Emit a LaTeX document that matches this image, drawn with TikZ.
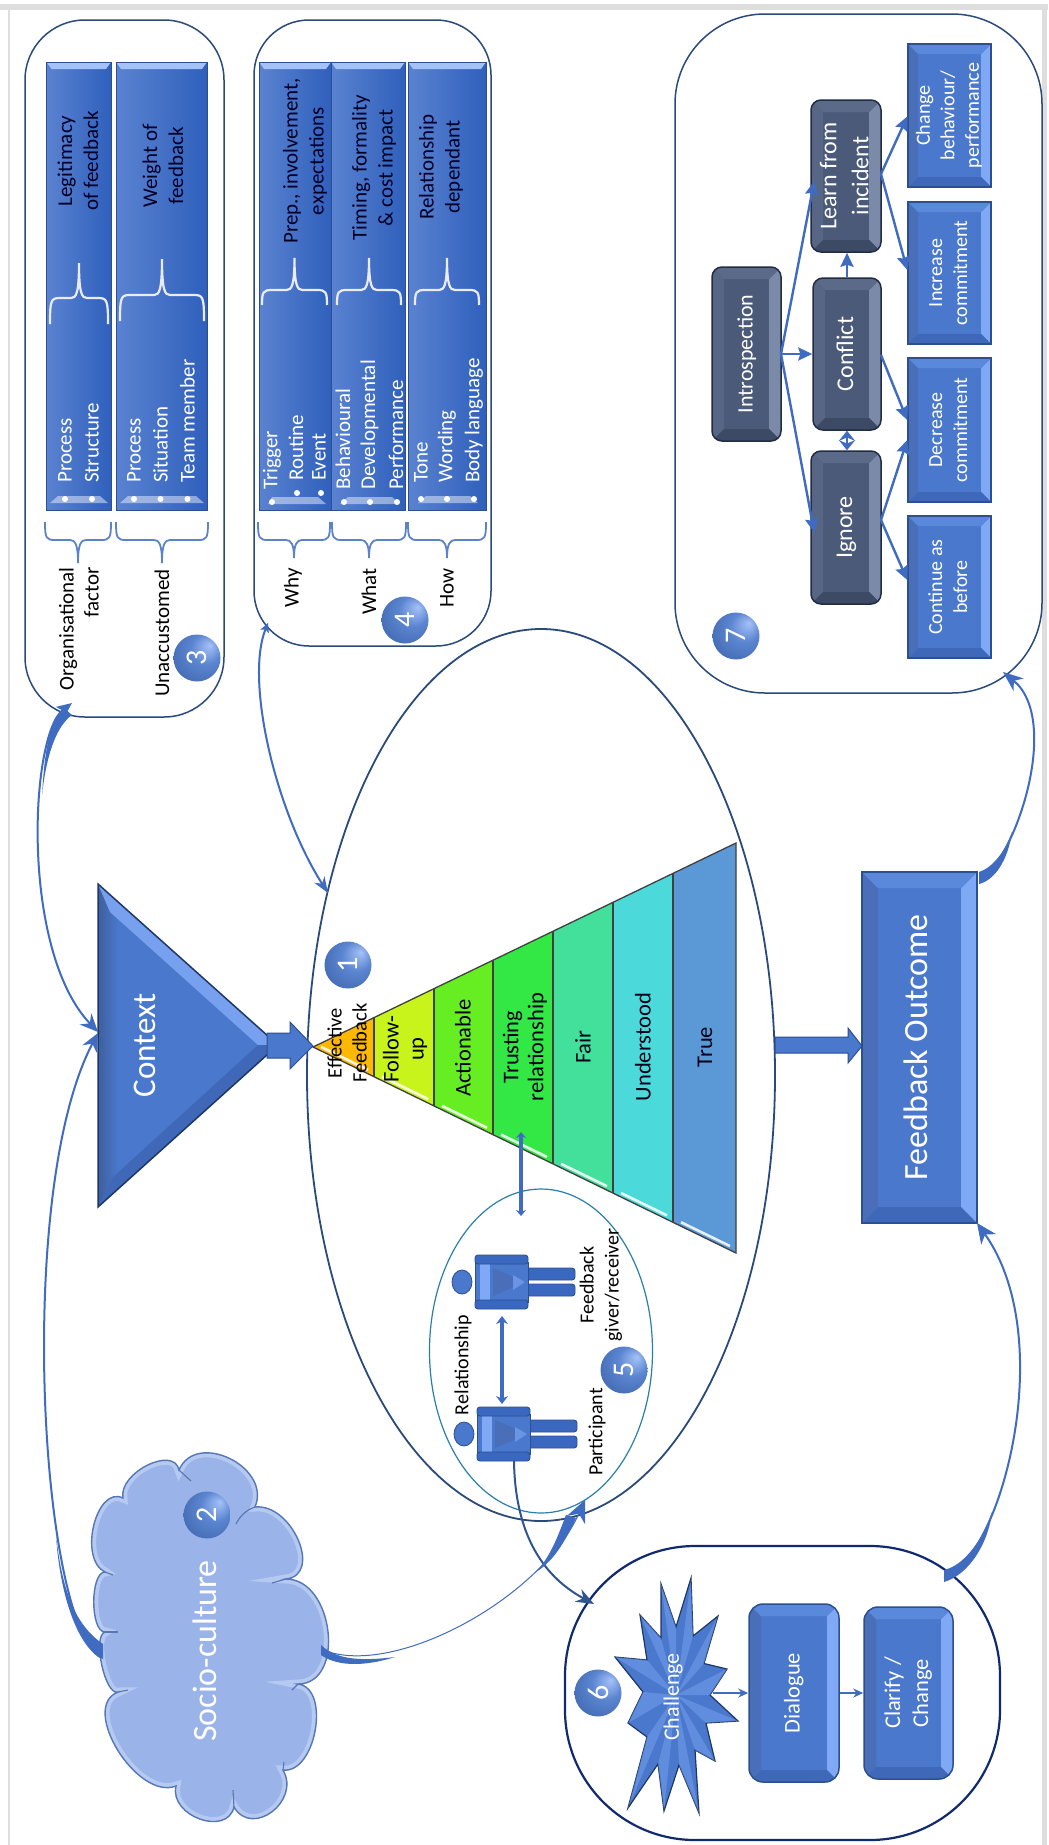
\documentclass[tikz,border=0pt]{standalone}
\usepackage{fontspec}
\setmainfont{Carlito}
\usetikzlibrary{arrows.meta,calc,shapes.geometric}
\definecolor{conn}{HTML}{3F6CC0}
\definecolor{limb}{HTML}{3A68C0}
\definecolor{framegray}{HTML}{DEDEDE}
\definecolor{edgeA}{HTML}{2A4A7A}
\definecolor{edgeB}{HTML}{0F2A6E}
\definecolor{tealedge}{HTML}{2A7FA8}
\definecolor{barleft}{HTML}{5A82D0}
\definecolor{barright}{HTML}{2F60BC}
\definecolor{blueAmain}{HTML}{4A78CC}
\definecolor{blueAleft}{HTML}{4A6FB8}
\definecolor{blueAright}{HTML}{7FA8F5}
\definecolor{blueAtop}{HTML}{5A88DA}
\definecolor{blueAbot}{HTML}{3F69B8}
\definecolor{blueAedge}{HTML}{2C4F90}
\definecolor{darkBmain}{HTML}{4A5A78}
\definecolor{darkBleft}{HTML}{566684}
\definecolor{darkBright}{HTML}{7A8AA8}
\definecolor{darkBtop}{HTML}{5A6A88}
\definecolor{darkBbot}{HTML}{3C4A66}
\definecolor{darkBedge}{HTML}{222C44}
\definecolor{pyrA}{HTML}{FFB800}
\definecolor{pyrB}{HTML}{C8F41C}
\definecolor{pyrC}{HTML}{66EE22}
\definecolor{pyrD}{HTML}{33E844}
\definecolor{pyrE}{HTML}{42E09A}
\definecolor{pyrF}{HTML}{4CD9D9}
\definecolor{pyrG}{HTML}{5B99D6}
\definecolor{cloudfill}{HTML}{9AB3E8}
\definecolor{cloudedge}{HTML}{5577B5}
\pgfdeclareradialshading{badgeshade}{\pgfpoint{14bp}{14bp}}{color(0bp)=(blueAright!70!white);color(16bp)=(blueAmain!90!white);color(38bp)=(blueAmain!85!black);color(50bp)=(blueAedge)}
\newcommand{\fs}[2]{\fontsize{#1bp}{#2bp}\selectfont}
\newcommand{\vt}[1]{\rotatebox{90}{\begin{tabular}{@{}c@{}}#1\end{tabular}}}
\newcommand{\bevelbox}[9]{%
 \begin{scope}
 \clip[rounded corners=#6bp] (#2,#3) rectangle (#4,#5);
 \fill[#8main] (#2,#3) rectangle (#4,#5);
 \fill[#8left] (#2,#3) -- (#2+#7,#3+#7) -- (#2+#7,#5-#7) -- (#2,#5) -- cycle;
 \fill[#8right] (#4,#3) -- (#4-#7,#3+#7) -- (#4-#7,#5-#7) -- (#4,#5) -- cycle;
 \fill[#8top] (#2,#3) -- (#2+#7,#3+#7) -- (#4-#7,#3+#7) -- (#4,#3) -- cycle;
 \fill[#8bot] (#2,#5) -- (#2+#7,#5-#7) -- (#4-#7,#5-#7) -- (#4,#5) -- cycle;
 \end{scope}
 \node[draw=#8edge,line width=1.5bp,rounded corners=#6bp,inner sep=0pt,text=white,
   minimum width={(#4-#2)*1bp},minimum height={(#5-#3)*1bp}] (#1) at ({(#2+#4)/2},{(#3+#5)/2}) {#9};
}
\newcommand{\gbar}[4]{%
 \shade[left color=barleft,right color=barright] (#1,#2) rectangle (#3,#4);
 \fill[blueAright!70!white] (#1,#2) -- (#3,#2) -- (#3-5,#2+7) -- (#1+5,#2+7) -- cycle;
 \draw[blueAedge,line width=1bp] (#1,#2) rectangle (#3,#4);
}
\newcommand{\bracepath}[6]{%
 \pgfmathsetmacro\bm{(#2+#3)/2}%
 \pgfmathsetmacro\bs{(#6>#5)?1:-1}%
 \draw[#1] (#2,#6) .. controls (#2,#5+2*\bs) and (#2+1,#5) .. (#2+10,#5) -- (\bm-8,#5)
   .. controls (\bm-3,#5) and (\bm,#5-4*\bs) .. (\bm,#4)
   .. controls (\bm,#5-4*\bs) and (\bm+3,#5) .. (\bm+8,#5) -- (#3-10,#5)
   .. controls (#3-1,#5) and (#3,#5+2*\bs) .. (#3,#6);
}
\newcommand{\person}[3]{%
 \begin{scope}[shift={(#2,#3)}]
 \filldraw[fill=blueAmain,draw=blueAedge,line width=.8bp] (462,1282) ellipse [x radius=10,y radius=12];
 \filldraw[fill=limb,draw=blueAedge,line width=.9bp,rounded corners=3bp] (510,1268) rectangle (575,1280);
 \filldraw[fill=limb,draw=blueAedge,line width=.9bp,rounded corners=3bp] (510,1284) rectangle (575,1296);
 \filldraw[fill=blueAmain,draw=blueAedge,line width=.8bp] (475,1262) rectangle (528,1302);
 \fill[blueAright] (480,1264) rectangle (490,1300);
 \fill[blueAleft] (493,1268) -- (525,1282) -- (493,1296) -- cycle;
 \fill[blueAright!60!blueAmain] (513,1275) -- (525,1282) -- (513,1290) -- cycle;
 \filldraw[fill=limb,draw=blueAedge,line width=.9bp,rounded corners=3bp] (475,1255) rectangle (528,1264);
 \filldraw[fill=limb,draw=blueAedge,line width=.9bp,rounded corners=3bp] (475,1300) rectangle (528,1309);
 \coordinate (#1) at (502,1282);
 \end{scope}
}
\tikzset{
 headtxt/.style={rotate=90,align=center,font=\fs{21}{26},text=black!85!blue,inner sep=0pt},
 listtxt/.style={rotate=90,anchor=west,font=\fs{21}{24},text=white,inner sep=0pt},
 labeltxt/.style={rotate=90,anchor=east,align=right,font=\fs{21}{25},text=black,inner sep=0pt},
 pyrtxt/.style={rotate=90,align=center,font=\fs{22.5}{25},text=black!90!blue,inner sep=0pt},
 smalltxt/.style={rotate=90,align=center,font=\fs{20}{25},text=black,inner sep=0pt},
 badge/.style={circle,shading=badgeshade,minimum size=47bp,inner sep=0pt,text=white,font=\fs{30}{30}},
 whitebrace/.style={white!92!blue,line width=2.2bp},
 bluebrace/.style={conn!85!white,line width=1.8bp},
 roundbox/.style={draw=edgeA,line width=1.5bp,fill=white},
 link/.style={conn,line width=2.4bp,-{Stealth[length=14bp,width=13bp,inset=2bp]}},
 curve/.style={conn,line width=2bp},
 wedge/.style={fill=conn},
 bullet/.style={fill=white,circle,minimum size=6bp,inner sep=0pt},
 streak/.style={white,line width=2.6bp,opacity=.85},
 pyrline/.style={black!75,line width=1.3bp},
 shadetip/.style={fill=blueAright,opacity=.45},
 wrinkle/.style={cloudedge,line width=1.1bp},
}
\begin{document}
\begin{tikzpicture}[x=1bp,y=-1bp]
\useasboundingbox (0,0) rectangle (1048,1845);
\fill[white] (0,0) rectangle (1048,1845);
% frame
\fill[framegray] (0,4) rectangle (1048,10);
\fill[framegray] (8,10) rectangle (10,1845);
\fill[framegray] (1042,10) rectangle (1047,1845);
% large containers
\path[roundbox,rounded corners=60bp] (25,20) rectangle (224,717);
\path[roundbox,rounded corners=55bp] (254,20) rectangle (491,646);
\path[roundbox,rounded corners=90bp] (675,14) rectangle (1042,693);
\path[draw=edgeB,line width=2.2bp,fill=white,rounded corners=130bp] (565,1546) rectangle (1000,1840);
\node[draw=edgeA,line width=1.8bp,ellipse,minimum width=468bp,minimum height=892bp,inner sep=0pt] (ellmain) at (541,1075) {};
\node[draw=tealedge,line width=1.2bp,ellipse,minimum width=223bp,minimum height=324bp,inner sep=0pt] (ellrel) at (541,1351) {};

% ---------- box 3 bars
\gbar{46.5}{62}{111}{510}
\gbar{116}{62}{207}{510}
\node[headtxt] (h1) at (78,161) {Legitimacy\\of feedback};
\node[headtxt] (h2) at (163,166) {Weight of\\feedback};
\bracepath{whitebrace}{50}{108}{263}{298}{324}
\bracepath{whitebrace}{120}{204}{259}{295}{321}
\fill[white,opacity=.45] (58,496) -- (100,496) -- (108,503) -- (50,503) -- cycle;
\fill[white,opacity=.45] (128,496) -- (196,496) -- (204,503) -- (120,503) -- cycle;
\node[listtxt] (l1) at (65,483) {Process};
\node[listtxt] (l2) at (92,483) {Structure};
\node[listtxt] (l3) at (134,483) {Process};
\node[listtxt] (l4) at (160.5,483) {Situation};
\node[listtxt] (l5) at (187.5,483) {Team member};
\foreach \bx in {65,92,134,160.5,187.5} \node[bullet] at (\bx,499) {};
\bracepath{bluebrace}{45}{111}{563}{540}{522}
\bracepath{bluebrace}{116}{208}{563}{540}{522}
\node[labeltxt] (t1) at (79,567) {Organisational\\factor};
\node[labeltxt] (t2b) at (162,569) {Unaccustomed};
\node[badge] (b3) at (197,658) {\rotatebox{90}{3}};

% ---------- box 4 bars
\gbar{259}{62}{331}{510}
\gbar{331}{62}{405}{510}
\gbar{408}{62}{486}{510}
\node[headtxt] (h3) at (305,161) {Prep., involvement,\\expectations};
\node[headtxt] (h4) at (374,168) {Timing, formality\\\& cost impact};
\node[headtxt] (h5) at (441,167) {Relationship\\dependant};
\bracepath{whitebrace}{262}{327}{258}{290}{305}
\bracepath{whitebrace}{337}{401}{258}{290}{305}
\bracepath{whitebrace}{415}{479}{258}{290}{305}
\fill[white,opacity=.45] (272,497) -- (318,497) -- (326,504) -- (268,504) -- cycle;
\fill[white,opacity=.45] (348,497) -- (392,497) -- (400,504) -- (340,504) -- cycle;
\fill[white,opacity=.45] (426,496) -- (470,496) -- (478,503) -- (418,503) -- cycle;
\node[listtxt] (l6) at (272,490) {Trigger};
\node[listtxt] (l7) at (296,481) {Routine};
\node[listtxt] (l8) at (319,481) {Event};
\node[listtxt] (l9) at (343,490) {Behavioural};
\node[listtxt] (l10) at (369.5,490) {Developmental};
\node[listtxt] (l11) at (396,490) {Performance};
\node[listtxt] (l12) at (421,483) {Tone};
\node[listtxt] (l13) at (447,483) {Wording};
\node[listtxt] (l14) at (474,483) {Body language};
\foreach \bx/\by in {272/502,297/493,321/493,344/502,370/502,397/502,421/499,447/499,474/499} \node[bullet] at (\bx,\by) {};
\bracepath{bluebrace}{258}{330}{558}{540}{522}
\bracepath{bluebrace}{332}{406}{558}{540}{522}
\bracepath{bluebrace}{408}{486}{558}{540}{522}
\node[labeltxt] (t3) at (293,568) {Why};
\node[labeltxt] (t4) at (369,568) {What};
\node[labeltxt] (t5) at (447,568) {How};
\node[badge] (b4) at (405,620) {\rotatebox{90}{4}};

% ---------- box 7
\bevelbox{intro}{712}{267}{781}{441}{10}{12}{darkB}{\fs{22}{30}\vt{Introspection}}
\bevelbox{learn}{811}{100}{881}{252}{10}{12}{darkB}{\fs{24}{32}\vt{Learn from\\incident}}
\bevelbox{conflict}{813}{278}{881}{430}{10}{12}{darkB}{\fs{24}{30}\vt{Conflict}}
\bevelbox{ignore}{811}{451}{881}{604}{10}{12}{darkB}{\fs{24}{30}\vt{Ignore}}
\bevelbox{change}{908}{44}{991}{187}{0}{10}{blueA}{\fs{20}{24.5}\vt{Change\\behaviour/\\performance}}
\bevelbox{increase}{908}{202}{991}{344}{0}{10}{blueA}{\fs{20}{25}\vt{Increase\\commitment}}
\bevelbox{decrease}{908}{358}{991}{502}{0}{10}{blueA}{\fs{20}{25}\vt{Decrease\\commitment}}
\bevelbox{continue}{908}{516}{991}{658}{0}{10}{blueA}{\fs{20}{25}\vt{Continue as\\before}}
\node[badge] (b7) at (736,636) {\rotatebox{90}{7}};
\coordinate (iout) at (781,354);
\draw[link] (iout) -- ([yshift=-5bp,xshift=4bp]learn.west);
\draw[link] (iout) -- (conflict.west |- iout);
\draw[link] (iout) -- ([yshift=-5bp,xshift=4bp]ignore.west);
\draw[link] (conflict.north) -- (conflict.north |- learn.south);
\draw[conn,line width=2.4bp,{Stealth[length=10bp,width=16bp]}-{Stealth[length=10bp,width=16bp]}] (conflict.south) -- (conflict.south |- ignore.north);
\coordinate (lout) at (881,174);
\coordinate (cout) at (881,355);
\coordinate (gout) at (881,520);
\draw[link] (lout) -- ([yshift=-1bp]change.west);
\draw[link] (lout) -- ([yshift=3bp]increase.west);
\draw[link] (cout) -- ([yshift=10bp]decrease.west);
\draw[link] (gout) -- ([yshift=-10bp]decrease.west);
\draw[link] (gout) -- ([yshift=7bp]continue.west);

% ---------- pyramid
\fill[pyrA] (313,1047) -- (374,1017.6) -- (374,1076.7) -- cycle;
\fill[pyrB] (374,1017.6) -- (434,988.6) -- (434,1105.9) -- (374,1076.7) -- cycle;
\fill[pyrC] (434,988.6) -- (493,960.2) -- (493,1134.7) -- (434,1105.9) -- cycle;
\fill[pyrD] (493,960.2) -- (553,931.2) -- (553,1163.9) -- (493,1134.7) -- cycle;
\fill[pyrE] (553,931.2) -- (613,902.3) -- (613,1193.1) -- (553,1163.9) -- cycle;
\fill[pyrF] (613,902.3) -- (673,873.4) -- (673,1222.3) -- (613,1193.1) -- cycle;
\fill[pyrG] (673,873.4) -- (736,843) -- (736,1253) -- (673,1222.3) -- cycle;
\foreach \a/\b in {313/374,374/434,434/493,493/553,553/613,613/673,673/736}
  \draw[streak] ({\a+8},{1047+(\a+8-313)*.487-4}) -- ({\b-6},{1047+(\b-6-313)*.487-4});
\foreach \a in {374,434,493,553,613,673}
  \draw[pyrline] (\a,{1047-(\a-313)*.4823}) -- (\a,{1047+(\a-313)*.487});
\draw[pyrline,line join=miter] (313,1047) -- (736,843) -- (736,1253) -- cycle;
\node[rotate=90,align=center,font=\fs{20.5}{25},inner sep=0pt] (p0) at (347,1043) {Effective\\Feedback};
\node[pyrtxt] (p1) at (405,1049) {Follow-\\up};
\node[pyrtxt] (p2) at (463,1048) {Actionable};
\node[pyrtxt] (p3) at (525,1047) {Trusting\\relationship};
\node[pyrtxt] (p4) at (583,1047) {Fair};
\node[pyrtxt] (p5) at (643,1047) {Understood};
\node[pyrtxt] (p6) at (705,1047) {True};
\node[badge] (b1) at (348,965) {\rotatebox{90}{1}};

% ---------- context
\fill[blueAmain] (98,884) -- (278,1045) -- (98,1207) -- cycle;
\shade[left color=blueAleft!85!black,right color=blueAmain] (98,884) -- (118,920) -- (118,1172) -- (98,1207) -- cycle;
\fill[blueAright!85!blueAmain] (98,884) -- (278,1045) -- (258,1045) -- (110,912) -- cycle;
\fill[blueAbot] (98,1207) -- (278,1045) -- (258,1045) -- (112,1178) -- cycle;
\draw[blueAedge!70!black,line width=1.5bp,line join=miter] (98,884) -- (278,1045) -- (98,1207) -- cycle;
\node[rotate=90,font=\fs{33}{36},text=white,inner sep=0pt] (ctx) at (145,1045) {Context};
\filldraw[fill=blueAmain,draw=blueAedge,line width=1bp] (267,1033) -- (290,1033) -- (290,1022) -- (313,1046) -- (290,1069) -- (290,1058) -- (267,1058) -- cycle;

% ---------- outcome
\bevelbox{outcome}{862}{872}{977}{1223}{0}{16}{blueA}{\fs{34}{38}\vt{Feedback Outcome}}
\filldraw[fill=blueAmain,draw=blueAedge,line width=1bp] (775,1037) -- (848,1037) -- (848,1028) -- (862,1046) -- (848,1063) -- (848,1053) -- (775,1053) -- cycle;

% ---------- relationship group
\person{pa}{0}{0}
\person{pb}{2}{152}
\node[smalltxt] (rel) at (463,1365) {Relationship};
\node[smalltxt] (fb) at (601,1285) {Feedback\\giver/receiver};
\node[smalltxt] (part) at (597,1432) {Participant};
\node[badge] (b5) at (624,1370) {\rotatebox{90}{5}};
\coordinate (ra) at (502,1316);
\coordinate (rb) at (502,1404);
\coordinate (ta) at (521,1132);
\coordinate (tb) at (521,1216);
\draw[conn,line width=4bp,{Stealth[length=8bp,width=12bp]}-{Stealth[length=8bp,width=12bp]}] (ra) -- (rb);
\draw[conn,line width=4bp,{Stealth[length=6bp,width=10bp]}-{Stealth[length=6bp,width=10bp]}] (ta) -- (tb);

% ---------- cloud
\def\cloudpath{(179,1470) .. controls (196,1430) and (272,1467) .. (255,1507)
 .. controls (292,1503) and (323,1575) .. (286,1579)
 .. controls (334,1579) and (346,1684) .. (298,1684)
 .. controls (331,1688) and (316,1774) .. (283,1770)
 .. controls (301,1801) and (252,1838) .. (234,1807)
 .. controls (227,1837) and (169,1816) .. (176,1786)
 .. controls (137,1801) and (79,1707) .. (118,1692)
 .. controls (105,1696) and (92,1636) .. (105,1632)
 .. controls (90,1632) and (90,1572) .. (105,1572)
 .. controls (78,1559) and (96,1485) .. (123,1498)
 .. controls (118,1473) and (174,1445) .. (179,1470) -- cycle}
\fill[cloudfill] \cloudpath;
\begin{scope}
 \clip \cloudpath;
 \draw[white!70!blueAright,line width=9bp,opacity=.45] \cloudpath;
\end{scope}
\draw[cloudedge,line width=1.4bp] \cloudpath;
\draw[wrinkle] (179,1470) -- (191,1481);
\draw[wrinkle] (255,1507) .. controls (246,1510) and (240,1516) .. (236,1524);
\draw[wrinkle] (286,1579) -- (272,1583);
\draw[wrinkle] (298,1684) -- (292,1690);
\draw[wrinkle] (283,1770) -- (284,1762);
\draw[wrinkle] (234,1807) -- (233,1790);
\draw[wrinkle] (118,1692) -- (128,1690);
\draw[wrinkle] (105,1632) -- (118,1632);
\draw[wrinkle] (105,1572) -- (113,1575);
\node[rotate=90,font=\fs{34}{36},text=white,inner sep=0pt] (cloudtxt) at (205,1651) {Socio-culture};
\node[badge] (b2) at (207,1515) {\rotatebox{90}{2}};

% ---------- box 6 content
\filldraw[fill=blueAmain,draw=blueAedge!70!black,line width=1.2bp] (691,1578) -- (693,1636) -- (718,1616) -- (704,1663.5) -- (727,1669) -- (710,1695) -- (738,1721) -- (706,1723) -- (715,1761) -- (695,1750) -- (699,1813) -- (679,1765) -- (664,1811) -- (658,1764) -- (628,1808) -- (647,1737) -- (628,1723) -- (643,1692) -- (615,1657) -- (647,1660) -- (640,1615) -- (661,1638) -- (661,1584) -- (676,1627) -- cycle;
\foreach \tx/\ty/\ix/\iy in {691/1578/693/1636,718/1616/704/1663.5,727/1669/710/1695,738/1721/706/1723,715/1761/695/1750,699/1813/679/1765,664/1811/658/1764,628/1808/647/1737,628/1723/643/1692,615/1657/647/1660,640/1615/661/1638,661/1584/676/1627}
  \fill[shadetip] (676,1695) -- (\tx,\ty) -- (\ix,\iy) -- cycle;
\node[rotate=90,font=\fs{22}{24},text=white,inner sep=0pt] (chal) at (673,1697) {Challenge};
\node[badge] (b6) at (598,1693) {\rotatebox{90}{6}};
\bevelbox{dialogue}{749}{1604}{839}{1782}{14}{12}{blueA}{\fs{22.5}{28}\vt{Dialogue}}
\bevelbox{clarify}{864}{1607}{953}{1779}{14}{12}{blueA}{\fs{22.5}{28}\vt{Clarify /\\Change}}
\coordinate (starout) at (713,1693);
\draw[conn,line width=1.8bp,-{Stealth[length=10bp,width=9bp]}] (starout) -- (dialogue.west);
\draw[conn,line width=1.8bp,-{Stealth[length=10bp,width=9bp]}] (dialogue.east) -- (clarify.west);

% ---------- curved connectors
\coordinate (b3tip) at (72,703);
\coordinate (ctxin) at (98,1032);
\coordinate (cloudL) at (100,1657);
\coordinate (ctxin2) at (98,1033);
\draw[curve,{Stealth[length=15bp,width=13bp,inset=3bp]}-{Stealth[length=18bp,width=16bp,inset=6bp]}] (b3tip) .. controls (30,735) and (20,950) .. (ctxin);
\fill[wedge] (64,708) .. controls (50,722) and (45,745) .. (42,795) .. controls (47,750) and (58,725) .. (72,715) -- cycle;
\draw[curve,-{Stealth[length=18bp,width=16bp,inset=6bp]}] (cloudL) .. controls (40,1620) and (15,1190) .. (ctxin2);
\fill[wedge] (103,1644) .. controls (75,1625) and (62,1590) .. (56,1535) .. controls (60,1600) and (80,1650) .. (103,1659) -- cycle;
\coordinate (b4tip) at (268,623);
\coordinate (elltip) at (328,893);
\draw[curve,{Stealth[length=9bp,width=9bp,inset=2bp]}-{Stealth[length=16bp,width=12bp,inset=5bp]}] (b4tip) .. controls (245,680) and (275,810) .. (elltip);
\coordinate (pbfoot) at (514,1461);
\coordinate (b6tip) at (594,1604);
\draw[curve,edgeA!70!conn,-{Stealth[length=18bp,width=14bp,inset=6bp]}] (pbfoot) .. controls (515,1530) and (540,1575) .. (b6tip);
\coordinate (cloudR) at (321,1649);
\coordinate (ellb) at (585,1500);
\draw[conn,line width=1bp,-{Stealth[length=22bp,width=20bp,inset=7bp]}] (cloudR) .. controls (390,1680) and (540,1600) .. (ellb);
\fill[wedge] (321,1645) .. controls (335,1658) and (355,1662) .. (395,1657) .. controls (360,1668) and (335,1665) .. (321,1655) -- cycle;
\fill[wedge] (536,1572) .. controls (552,1555) and (560,1530) .. (566,1515) -- (576,1518) .. controls (568,1535) and (556,1560) .. (536,1572) -- cycle;
\coordinate (b6out) at (944,1578);
\coordinate (outlow) at (977,1223);
\draw[curve,-{Stealth[length=20bp,width=18bp,inset=6bp]}] (b6out) .. controls (1000,1560) and (1060,1340) .. (outlow);
\fill[wedge] (944,1570) .. controls (965,1565) and (982,1540) .. (992,1512) .. controls (988,1545) and (968,1575) .. (944,1582) -- cycle;
\coordinate (outhigh) at (980,880);
\coordinate (b7tip) at (1003,672);
\draw[curve,-{Stealth[length=20bp,width=16bp,inset=6bp]}] (outhigh) .. controls (1015,860) and (1062,720) .. (b7tip);
\fill[wedge] (979,872) .. controls (992,868) and (1005,852) .. (1012,832) .. controls (1008,860) and (995,880) .. (979,884) -- cycle;
\end{tikzpicture}
\end{document}
